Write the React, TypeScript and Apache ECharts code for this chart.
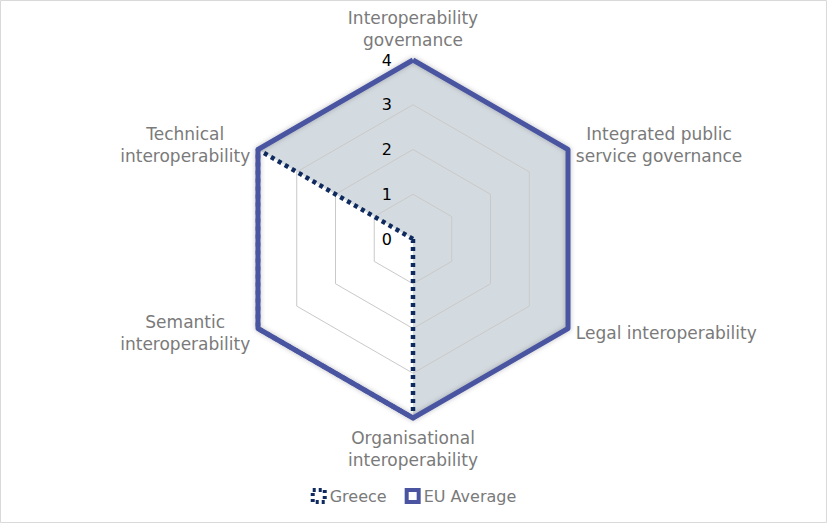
import React, { useEffect, useRef } from "react";
import * as echarts from "echarts";

const indicators = [
  "Interoperability\ngovernance",
  "Integrated public\nservice governance",
  "Legal interoperability",
  "Organisational\ninteroperability",
  "Semantic\ninteroperability",
  "Technical\ninteroperability",
];
const greece = [0, 0, 0, 4, 4, 4];
const euAverage = [4, 4, 4, 4, 4, 4];
const maxValue = 4;
const seriesNames = ["Greece", "EU Average"];

const FONT = "DejaVu Sans, Verdana, sans-serif";
const EU_LINE = "#4a54a0";
const EU_FILL = "#d4dbe0";
const GR_LINE = "#0f2a5e";

// ECharts lays indicators out counter-clockwise; reorder so they run clockwise.
const order = [0, 5, 4, 3, 2, 1];
const reorder = <T,>(arr: T[]) => order.map((i) => arr[i]);

export default function App() {
  const ref = useRef<HTMLDivElement>(null);
  useEffect(() => {
    if (!ref.current) return;
    const chart = echarts.init(ref.current, null, { renderer: "svg" });
    const center = [413, 239];
    const radius = 179;
    const baseIndicator = reorder(indicators).map((n) => ({ name: n, max: maxValue, min: 0 }));
    const gr = reorder(greece);
    const eu = reorder(euAverage);
    chart.setOption({
      animation: false,
      backgroundColor: "#ffffff",
      graphic: [
        {
          type: "rect",
          shape: { x: 0.5, y: 0.5, width: 826, height: 522 },
          style: { fill: "none", stroke: "#d9d9d9", lineWidth: 1 },
          z: 0,
        },
      ],
      legend: {
        bottom: 14,
        left: "center",
        itemWidth: 12,
        itemHeight: 12,
        itemGap: 18,
        textStyle: { fontFamily: FONT, fontSize: 16, color: "#7a7a7a" },
        data: [
          {
            name: seriesNames[0],
            icon: "rect",
            itemStyle: { color: "#ffffff", borderColor: GR_LINE, borderWidth: 4, borderType: [3, 3] },
          },
          {
            name: seriesNames[1],
            icon: "rect",
            itemStyle: { color: "#ffffff", borderColor: EU_LINE, borderWidth: 4 },
          },
        ],
      },
      radar: [
        {
          center,
          radius,
          startAngle: 90,
          splitNumber: 4,
          shape: "polygon",
          indicator: baseIndicator,
          axisName: {
            color: "#7a7a7a",
            fontFamily: FONT,
            fontSize: 17,
            lineHeight: 22,
            formatter: (name: string) =>
              name
                .split("\n")
                .map((l) => `{c|${l}}`)
                .join("\n"),
            rich: {
              c: {
                align: "center",
                color: "#7a7a7a",
                fontFamily: FONT,
                fontSize: 17,
                lineHeight: 22,
              },
            },
          },
          nameGap: 9,
          axisLine: { show: false },
          splitLine: { show: false },
          splitArea: { show: false },
          axisLabel: { show: false },
        },
        {
          center,
          radius,
          startAngle: 90,
          splitNumber: 4,
          shape: "polygon",
          z: 4,
          indicator: baseIndicator.map((ind, i) => ({
            ...ind,
            name: "",
            axisLabel: { show: i === 0 },
          })),
          axisName: { show: false },
          axisLine: { show: false },
          splitArea: { show: false },
          splitLine: {
            show: true,
            lineStyle: {
              color: ["#c9c9c9", "#c9c9c9", "#c9c9c9", "#c9c9c9", "rgba(0,0,0,0)"],
              width: 1,
            },
          },
          axisLabel: {
            show: true,
            color: "#000000",
            fontFamily: FONT,
            fontSize: 16,
            margin: 21,
          },
        },
      ],
      series: [
        {
          name: seriesNames[1],
          type: "radar",
          radarIndex: 0,
          symbol: "none",
          z: 2,
          lineStyle: { width: 0, opacity: 0 },
          areaStyle: { color: EU_FILL, opacity: 1 },
          itemStyle: { color: EU_LINE },
          data: [{ name: seriesNames[1], value: eu }],
        },
        {
          name: seriesNames[0],
          type: "radar",
          radarIndex: 0,
          symbol: "none",
          z: 3,
          lineStyle: { width: 0, opacity: 0 },
          areaStyle: { color: "#ffffff", opacity: 1 },
          itemStyle: { color: GR_LINE },
          data: [{ name: seriesNames[0], value: gr }],
        },
        {
          name: seriesNames[0],
          type: "radar",
          radarIndex: 0,
          symbol: "none",
          z: 5,
          lineStyle: { color: GR_LINE, width: 4.5, type: [4, 4], cap: "butt" },
          itemStyle: { color: GR_LINE },
          data: [{ name: seriesNames[0], value: gr }],
        },
        {
          name: seriesNames[1],
          type: "radar",
          radarIndex: 0,
          symbol: "none",
          z: 6,
          lineStyle: {
            color: EU_LINE,
            width: 5,
            shadowBlur: 5,
            shadowColor: "rgba(0,0,0,0.25)",
          },
          itemStyle: { color: EU_LINE },
          data: [{ name: seriesNames[1], value: eu }],
        },
      ],
    });
    return () => chart.dispose();
  }, []);
  return (
    <div
      ref={ref}
      style={{ position: "absolute", left: 0, top: 0, width: 827, height: 523 }}
    />
  );
}
